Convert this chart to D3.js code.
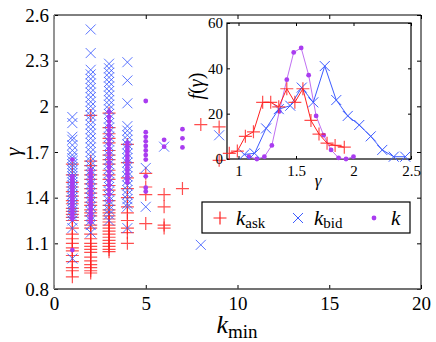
<!DOCTYPE html>
<html>
<head>
<meta charset="utf-8">
<script src="https://cdn.jsdelivr.net/npm/d3@7"></script>
<style>
  body { margin: 0; background: #fff; }
  text { font-family: "Liberation Serif", "Times New Roman", Times, "Nimbus Roman", FreeSerif, "DejaVu Serif", serif; }
</style>
</head>
<body>
<svg id="chart" width="436" height="342"></svg>
<script>
// ---- data ----
var kTicks = [0, 5, 10, 15, 20];
var gammaTicks = [0.8, 1.1, 1.4, 1.7, 2, 2.3, 2.6];

// gamma values per k_min, ask side (+)
var askByK = [
  [1, [1.62, 1.55, 1.50, 1.47, 1.44, 1.41, 1.38, 1.36, 1.33, 1.31, 1.29, 1.27, 1.25, 1.20, 1.16, 1.13, 1.10, 1.07, 1.05, 1.02, 0.98, 0.94, 0.92, 0.88]],
  [2, [1.94, 1.64, 1.61, 1.58, 1.55, 1.52, 1.49, 1.46, 1.43, 1.40, 1.37, 1.35, 1.32, 1.30, 1.28, 1.25, 1.22, 1.20, 1.16, 1.13, 1.10, 1.08, 1.06, 1.04, 1.01, 0.985, 0.96, 0.94, 0.92, 0.905]],
  [3, [1.955, 1.86, 1.82, 1.79, 1.76, 1.71, 1.68, 1.65, 1.62, 1.58, 1.55, 1.52, 1.48, 1.45, 1.42, 1.38, 1.35, 1.32, 1.30, 1.28, 1.26, 1.24, 1.22, 1.20, 1.18, 1.16, 1.14, 1.12, 1.10, 1.08, 1.06, 1.045]],
  [4, [1.75, 1.63, 1.53, 1.46, 1.40, 1.34, 1.30, 1.25, 1.20, 1.17, 1.10]],
  [5, [1.56, 1.47, 1.42, 1.23]],
  [6, [1.42, 1.34, 1.22, 1.20]],
  [7, [1.46]],
  [8, [1.88]],
  [9, [1.865, 1.645]]
];

// gamma values per k_min, bid side (x)
var bidByK = [
  [1, [1.93, 1.89, 1.80, 1.78, 1.745, 1.71, 1.68, 1.66, 1.64, 1.62, 1.60, 1.58, 1.56, 1.54, 1.52, 1.50, 1.48, 1.46, 1.44, 1.42, 1.40, 1.38, 1.36, 1.34, 1.32, 1.30, 1.28, 1.25, 1.20, 1.00]],
  [2, [2.505, 2.35, 2.24, 2.21, 2.18, 2.15, 2.12, 2.09, 2.06, 2.03, 2.00, 1.97, 1.94, 1.91, 1.88, 1.85, 1.82, 1.79, 1.76, 1.73, 1.70, 1.67, 1.64, 1.61, 1.58, 1.55, 1.52, 1.49, 1.46, 1.43, 1.40, 1.37, 1.34, 1.31, 1.28, 1.25, 1.22, 1.17]],
  [3, [2.28, 2.25, 2.22, 2.19, 2.16, 2.13, 2.10, 2.07, 2.04, 2.01, 1.98, 1.95, 1.92, 1.89, 1.86, 1.83, 1.80, 1.77, 1.74, 1.71, 1.68, 1.65, 1.62, 1.59, 1.56, 1.53, 1.50, 1.47, 1.44, 1.41, 1.38, 1.35, 1.32, 1.29, 1.25]],
  [4, [2.29, 2.17, 2.02, 1.87, 1.84, 1.81, 1.78, 1.75, 1.72, 1.69, 1.66, 1.63, 1.60, 1.57, 1.54, 1.51, 1.48, 1.45, 1.42, 1.39, 1.36, 1.34, 1.20]],
  [5, [1.595, 1.34]],
  [6, [1.735]],
  [8, [1.09]],
  [9, [1.81]]
];

// gamma values per k_min, aggregated k (dots)
var allByK = [
  [1, [1.65, 1.54, 1.52, 1.50, 1.48, 1.46, 1.44, 1.42, 1.40, 1.38, 1.36, 1.34, 1.32, 1.30, 1.28, 1.26, 1.056]],
  [2, [1.58, 1.56, 1.54, 1.52, 1.50, 1.48, 1.46, 1.44, 1.42, 1.40, 1.38, 1.36, 1.34, 1.32, 1.30, 1.28, 1.26, 1.24]],
  [3, [1.965, 1.93, 1.90, 1.87, 1.84, 1.81, 1.78, 1.75, 1.72, 1.69, 1.66, 1.63, 1.60, 1.57, 1.54, 1.51, 1.48, 1.45, 1.42, 1.38]],
  [4, [1.76, 1.74, 1.72, 1.70, 1.68, 1.66, 1.64, 1.62, 1.60, 1.58, 1.56, 1.54, 1.52, 1.50]],
  [5, [2.035, 1.83, 1.80, 1.77, 1.74, 1.71, 1.68, 1.65, 1.54, 1.465, 1.44]],
  [6, [1.78, 1.735]],
  [7, [1.85, 1.79, 1.73]]
];

// inset: distribution f(gamma)
var insetXTicks = [1, 1.5, 2, 2.5];
var insetYTicks = [0, 20, 40, 60];
var askGamma = [0.92, 0.99, 1.06, 1.13, 1.21, 1.28, 1.35, 1.42, 1.49, 1.56, 1.63, 1.70, 1.77, 1.84, 1.92];
var askF     = [2.5, 3.5, 10, 12, 25, 25, 23, 31, 25, 31, 17, 11, 7, 6, 5.2];
var bidGamma = [1.05, 1.14, 1.24, 1.35, 1.45, 1.55, 1.65, 1.75, 1.85, 1.95, 2.05, 2.15, 2.25, 2.35, 2.45];
var bidF     = [2, 2.5, 13.5, 22, 23.5, 31.5, 25, 41, 26, 19, 15, 10, 4, 1, 1];
var allGamma = [1.09, 1.16, 1.225, 1.29, 1.355, 1.42, 1.48, 1.545, 1.61, 1.675, 1.74, 1.805, 1.87, 1.935, 2.0];
var allF     = [1, 0, 1, 6, 21, 35, 47, 49, 37, 19, 10.5, 4, 0.5, 0, 1];

var RED = "#ff2020", BLUE = "#3d5cff", PURPLE = "#a93cf0";
var fmt = d3.format("~g");

var svg = d3.select("#chart");
svg.append("rect").attr("width", 436).attr("height", 342).attr("fill", "#fff");

var x = d3.scaleLinear().domain([0, 20]).range([54, 421]);
var y = d3.scaleLinear().domain([0.8, 2.6]).range([289, 15]);

function flat(byK) {
  var out = [];
  byK.forEach(function(d) { d[1].forEach(function(g) { out.push([d[0], g]); }); });
  return out;
}
function plusPath(cx, cy, s) {
  return "M" + (cx - s) + "," + cy + "H" + (cx + s) + "M" + cx + "," + (cy - s) + "V" + (cy + s);
}
function crossPath(cx, cy, s) {
  return "M" + (cx - s) + "," + (cy - s) + "L" + (cx + s) + "," + (cy + s) +
         "M" + (cx - s) + "," + (cy + s) + "L" + (cx + s) + "," + (cy - s);
}

// main scatter
var gm = svg.append("g");
gm.selectAll("path.ask").data(flat(askByK)).enter().append("path")
  .attr("d", function(d) { return plusPath(x(d[0]), y(d[1]), 6.5); })
  .attr("stroke", RED).attr("stroke-width", 1.2).attr("stroke-opacity", 0.8).attr("fill", "none");
gm.selectAll("path.bid").data(flat(bidByK)).enter().append("path")
  .attr("d", function(d) { return crossPath(x(d[0]), y(d[1]), 5); })
  .attr("stroke", BLUE).attr("stroke-width", 1).attr("stroke-opacity", 0.85).attr("fill", "none");
gm.selectAll("circle").data(flat(allByK)).enter().append("circle")
  .attr("cx", function(d) { return x(d[0]); })
  .attr("cy", function(d) { return y(d[1]); })
  .attr("r", 2.4).attr("fill", PURPLE);

// main axes
var fs = "19px";
var ax = svg.append("g").attr("transform", "translate(0,289)")
  .call(d3.axisBottom(x).tickValues(kTicks).tickSize(-4).tickPadding(8).tickFormat(fmt));
ax.selectAll("text").style("font-size", fs);
svg.append("g").attr("transform", "translate(0,15)")
  .call(d3.axisTop(x).tickValues(kTicks).tickSize(-4).tickFormat(""));
var ay = svg.append("g").attr("transform", "translate(54,0)")
  .call(d3.axisLeft(y).tickValues(gammaTicks).tickSize(-4).tickPadding(5).tickFormat(fmt));
ay.selectAll("text").style("font-size", fs);
svg.append("g").attr("transform", "translate(421,0)")
  .call(d3.axisRight(y).tickValues(gammaTicks).tickSize(-4).tickFormat(""));
svg.selectAll(".domain").remove();
svg.selectAll(".tick line").attr("stroke", "#000");
svg.selectAll(".tick text").attr("fill", "#000");

svg.append("line").attr("x1", 54).attr("x2", 421).attr("y1", 15).attr("y2", 15).attr("stroke", "#000");
svg.append("line").attr("x1", 421).attr("x2", 421).attr("y1", 15).attr("y2", 289).attr("stroke", "#000");
svg.append("line").attr("x1", 54).attr("x2", 421).attr("y1", 289).attr("y2", 289).attr("stroke", "#444").attr("stroke-width", 1.3);
svg.append("line").attr("x1", 54).attr("x2", 54).attr("y1", 15).attr("y2", 289).attr("stroke", "#888").attr("stroke-width", 1.8);

// axis titles
var xl = svg.append("text").attr("x", 237).attr("y", 333).attr("text-anchor", "middle");
xl.append("tspan").attr("font-style", "italic").attr("font-size", 26).text("k");
xl.append("tspan").attr("font-size", 19).attr("dy", 5).text("min");
svg.append("text").attr("transform", "translate(20,152) rotate(-90)")
  .attr("text-anchor", "middle").attr("font-style", "italic").attr("font-size", 22).text("γ");

// inset
var ix = d3.scaleLinear().domain([0.9, 2.5]).range([227, 411]);
var iy = d3.scaleLinear().domain([0, 60]).range([159, 23]);
svg.append("rect").attr("x", 227).attr("y", 23).attr("width", 184).attr("height", 136)
  .attr("fill", "#fff");
var gi = svg.append("g");
var ifs = "15px";
var iax = gi.append("g").attr("transform", "translate(0,159)")
  .call(d3.axisBottom(ix).tickValues(insetXTicks).tickSize(-3).tickPadding(6).tickFormat(fmt));
iax.selectAll("text").style("font-size", ifs);
gi.append("g").attr("transform", "translate(0,23)")
  .call(d3.axisTop(ix).tickValues(insetXTicks).tickSize(-3).tickFormat(""));
var iay = gi.append("g").attr("transform", "translate(227,0)")
  .call(d3.axisLeft(iy).tickValues(insetYTicks).tickSize(-3).tickPadding(4).tickFormat(fmt));
iay.selectAll("text").style("font-size", ifs);
gi.append("g").attr("transform", "translate(411,0)")
  .call(d3.axisRight(iy).tickValues(insetYTicks).tickSize(-3).tickFormat(""));
gi.selectAll(".domain").remove();
gi.selectAll(".tick text").attr("fill", "#000");
gi.append("rect").attr("x", 227).attr("y", 23).attr("width", 184).attr("height", 136)
  .attr("fill", "none").attr("stroke", "#000").attr("stroke-width", 1.2);

var line = d3.line().x(function(d) { return ix(d[0]); }).y(function(d) { return iy(d[1]); });
var askSeries = d3.zip(askGamma, askF), bidSeries = d3.zip(bidGamma, bidF), allSeries = d3.zip(allGamma, allF);

gi.append("path").datum(allSeries).attr("d", line).attr("fill", "none").attr("stroke", "#c070f2").attr("stroke-width", 1);
gi.selectAll("circle").data(allSeries).enter().append("circle")
  .attr("cx", function(d) { return ix(d[0]); }).attr("cy", function(d) { return iy(d[1]); })
  .attr("r", 2.4).attr("fill", PURPLE);
gi.append("path").datum(bidSeries).attr("d", line).attr("fill", "none").attr("stroke", BLUE).attr("stroke-width", 1);
gi.selectAll("path.bm").data(bidSeries).enter().append("path")
  .attr("d", function(d) { return crossPath(ix(d[0]), iy(d[1]), 5); })
  .attr("stroke", BLUE).attr("stroke-width", 1).attr("fill", "none");
gi.append("path").datum(askSeries).attr("d", line).attr("fill", "none").attr("stroke", RED).attr("stroke-width", 1);
gi.selectAll("path.am").data(askSeries).enter().append("path")
  .attr("d", function(d) { return plusPath(ix(d[0]), iy(d[1]), 6.5); })
  .attr("stroke", RED).attr("stroke-width", 1.2).attr("stroke-opacity", 0.8).attr("fill", "none");

svg.append("text").attr("x", 318).attr("y", 186).attr("text-anchor", "middle")
  .attr("font-style", "italic").attr("font-size", 17).text("γ");
var fl = svg.append("text").attr("transform", "translate(203,86) rotate(-90)").attr("text-anchor", "middle")
  .attr("font-size", 20);
fl.append("tspan").attr("font-style", "italic").text("f");
fl.append("tspan").text("(");
fl.append("tspan").attr("font-style", "italic").text("γ");
fl.append("tspan").text(")");

// legend
var lg = svg.append("g");
lg.append("rect").attr("x", 202).attr("y", 202).attr("width", 208).attr("height", 31)
  .attr("fill", "#fff").attr("stroke", "#000").attr("stroke-width", 1.2);
lg.append("path").attr("d", plusPath(220, 218, 6.5)).attr("stroke", RED).attr("stroke-width", 1.2).attr("fill", "none");
lg.append("path").attr("d", crossPath(298, 218, 5)).attr("stroke", BLUE).attr("stroke-width", 1).attr("fill", "none");
lg.append("circle").attr("cx", 374).attr("cy", 218).attr("r", 2.4).attr("fill", PURPLE);
function legendLabel(xp, sub) {
  var t = lg.append("text").attr("x", xp).attr("y", 225);
  t.append("tspan").attr("font-style", "italic").attr("font-size", 21).text("k");
  if (sub) t.append("tspan").attr("font-size", 15).attr("dy", 3).text(sub);
}
legendLabel(236, "ask");
legendLabel(314, "bid");
legendLabel(391, null);

// d3 axes put font-family="sans-serif" on their groups; drop it so the css serif applies
svg.selectAll("g").attr("font-family", null);
</script>
</body>
</html>
